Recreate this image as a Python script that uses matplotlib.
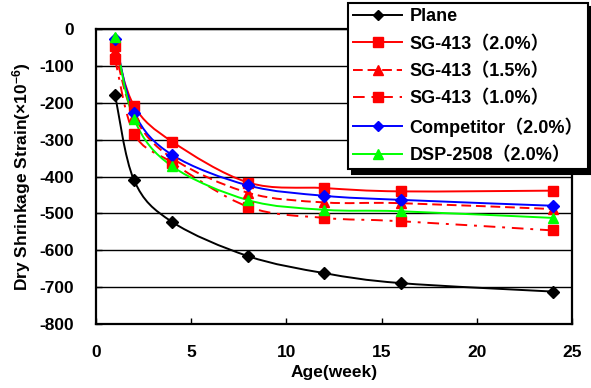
import numpy as np
import matplotlib
matplotlib.use('Agg')
import matplotlib.pyplot as plt
from matplotlib.path import Path
from matplotlib.patches import PathPatch
from matplotlib.lines import Line2D

# ---- data ----
weeks = [1, 2, 4, 8, 12, 16, 24]
plane = [-178, -410, -523, -616, -662, -689, -712]
sg413_20 = [-45, -208, -305, -416, -431, -440, -438]
sg413_15 = [-60, -236, -350, -444, -470, -472, -488]
sg413_10 = [-80, -283, -362, -482, -512, -521, -546]
competitor = [-25, -226, -341, -424, -452, -463, -479]
dsp2508 = [-20, -244, -372, -464, -490, -494, -512]

labels = ['Plane', 'SG-413（2.0%）', 'SG-413（1.5%）', 'SG-413（1.0%）',
          'Competitor（2.0%）', 'DSP-2508（2.0%）']
x_ticks = [0, 5, 10, 15, 20, 25]
y_ticks = list(range(-800, 1, 100))

FAM = ['Liberation Sans', 'Noto Sans CJK SC', 'DejaVu Sans']
plt.rcParams['font.family'] = FAM
plt.rcParams['font.weight'] = 'bold'
plt.rcParams['axes.unicode_minus'] = False
plt.rcParams['mathtext.fontset'] = 'custom'
plt.rcParams['mathtext.rm'] = 'Liberation Sans:bold'
plt.rcParams['mathtext.it'] = 'Liberation Sans:bold'
plt.rcParams['mathtext.bf'] = 'Liberation Sans:bold'
plt.rcParams['mathtext.default'] = 'rm'


def smooth_path(x, y):
    pts = np.column_stack([np.asarray(x, float), np.asarray(y, float)])
    n = len(pts)
    verts = [pts[0]]
    codes = [Path.MOVETO]
    for i in range(n - 1):
        p0 = pts[i - 1] if i > 0 else pts[i]
        p1 = pts[i]
        p2 = pts[i + 1]
        p3 = pts[i + 2] if i + 2 < n else pts[i + 1]
        c1 = p1 + (p2 - p0) / 6.0
        c2 = p2 - (p3 - p1) / 6.0
        verts += [c1, c2, p2]
        codes += [Path.CURVE4] * 3
    return Path(verts, codes)


fig = plt.figure(figsize=(5.91, 3.88), dpi=100)
W, H = 591, 388
ax = fig.add_axes([96 / W, 1 - 324 / H, (572 - 96) / W, (324 - 29.3) / H])

styles = [
    (plane, 'black', '-', 'D', 6),
    (sg413_20, '#FF0000', '-', 's', 7.5),
    (sg413_15, '#FF0000', (0, (5, 2.5)), '^', 7.5),
    (sg413_10, '#FF0000', (0, (6, 3.5, 1.5, 3.5)), 's', 7.5),
    (competitor, '#0000FF', '-', 'D', 6),
    (dsp2508, '#00FF00', '-', '^', 7.5),
]

handles = []
for (vals, col, ls, mk, ms), lab in zip(styles, labels):
    patch = PathPatch(smooth_path(weeks, vals), fill=False, edgecolor=col,
                      linewidth=1.4, linestyle=ls, zorder=3)
    ax.add_patch(patch)
    ax.plot(weeks, vals, linestyle='none', marker=mk, markersize=ms,
            color=col, markeredgecolor=col, zorder=4)
    handles.append(Line2D([], [], color=col, linestyle=ls, linewidth=1.4,
                          marker=mk, markersize=ms - 1, markeredgecolor=col))

ax.set_xlim(0, 25)
ax.set_ylim(-800, 0)
ax.set_xticks(x_ticks)
ax.set_yticks(y_ticks)
ax.yaxis.grid(True, color='black', linewidth=1.0)
ax.set_axisbelow(True)
for sp in ax.spines.values():
    sp.set_linewidth(1.6)
    sp.set_color('black')
ax.tick_params(axis='x', direction='in', length=4, width=1, pad=15, labelsize=12.5)
ax.tick_params(axis='y', direction='in', length=4, width=1, pad=16, labelsize=12.5)
for t in ax.get_xticklabels() + ax.get_yticklabels():
    t.set_fontweight('bold')

ax.set_xlabel('Age(week)', fontsize=12.5, fontweight='bold', labelpad=4)
ax.set_ylabel('Dry Shrinkage Strain(×10$^{-6}$)', fontsize=12.5,
              fontweight='bold', labelpad=4)

leg = ax.legend(handles, labels, loc='upper left',
                bbox_to_anchor=(348 / W, 1 - 3 / H),
                bbox_transform=fig.transFigure, borderaxespad=0,
                frameon=True, fancybox=False, framealpha=1,
                edgecolor='black',
                prop={'weight': 'bold', 'size': 13, 'family': FAM},
                handlelength=2.7, handletextpad=0.4, labelspacing=0.55,
                borderpad=0.3,
                shadow={'ox': 3, 'oy': -3, 'color': 'black', 'alpha': 1})
leg.get_frame().set_linewidth(1.5)
leg.set_zorder(10)

fig.savefig('out.png', dpi=100)
